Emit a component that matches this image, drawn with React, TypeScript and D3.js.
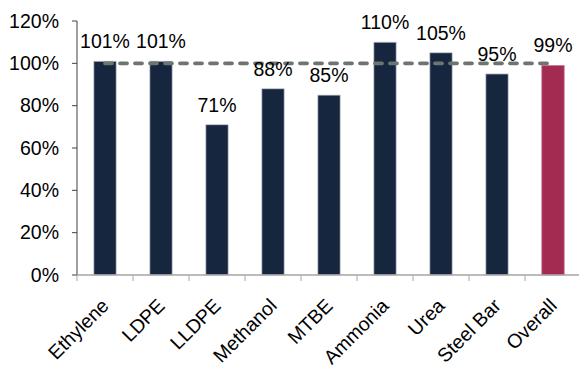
import React from "react";
import * as d3 from "d3";

const categories = ["Ethylene", "LDPE", "LLDPE", "Methanol", "MTBE", "Ammonia", "Urea", "Steel Bar", "Overall"];
const utilization = [101, 101, 71, 88, 85, 110, 105, 95, 99];
const yTicks = [0, 20, 40, 60, 80, 100, 120];
const referenceLevel = 100;

const W = 579;
const H = 374;
const FONT = "'Liberation Sans', Arial, Helvetica, sans-serif";
const FS = 19.5;

export default function App() {
  const x = d3
    .scaleBand<string>()
    .domain(categories)
    .range([77, 581])
    .paddingInner(0.6)
    .paddingOuter(0.3);
  const y = d3.scaleLinear().domain([0, 120]).range([275, 21]);
  const step = x.step();
  const left = 77;
  const center = (c: string) => (x(c) as number) + x.bandwidth() / 2;

  const first = categories[0];
  const last = categories[categories.length - 1];

  return (
    <svg
      width={W}
      height={H}
      style={{ position: "absolute", left: 0, top: 0, background: "#fff" }}
      fontFamily={FONT}
    >
      {/* bars */}
      {categories.map((c, i) => (
        <rect
          key={c}
          x={x(c)}
          y={y(utilization[i])}
          width={x.bandwidth()}
          height={y(0) - y(utilization[i])}
          fill={c === "Overall" ? "#a32a50" : "#17263f"}
          stroke={c === "Overall" ? "#c97a93" : "#c9ced8"}
          strokeWidth={0.8}
        />
      ))}

      {/* 100% reference line */}
      <line
        x1={center(first)}
        x2={center(last)}
        y1={y(referenceLevel)}
        y2={y(referenceLevel)}
        stroke="#6d7571"
        strokeWidth={3.8}
        strokeDasharray="7 8"
        strokeLinecap="round"
      />

      {/* y axis */}
      <line x1={left} x2={left} y1={y(120)} y2={y(0)} stroke="#404040" strokeWidth={1} />
      {yTicks.map((t) => (
        <g key={t}>
          <line x1={left - 5} x2={left} y1={y(t)} y2={y(t)} stroke="#404040" strokeWidth={1} />
          <text
            x={59}
            y={y(t)}
            dy="0.35em"
            textAnchor="end"
            fontSize={FS}
            fill="#000"
          >
            {t}%
          </text>
        </g>
      ))}

      {/* x axis */}
      <line x1={left} x2={W} y1={y(0)} y2={y(0)} stroke="#a6a6a6" strokeWidth={1.5} />
      {categories.map((c, i) => (
        <line
          key={c}
          x1={left + i * step}
          x2={left + i * step}
          y1={y(0)}
          y2={y(0) + 6}
          stroke="#a6a6a6"
          strokeWidth={1}
        />
      ))}

      {/* value labels */}
      {categories.map((c, i) => (
        <text
          key={c}
          x={center(c)}
          y={y(utilization[i]) - 13}
          textAnchor="middle"
          fontSize={FS}
          fill="#000"
        >
          {utilization[i]}%
        </text>
      ))}

      {/* category labels */}
      {categories.map((c) => (
        <text
          key={c}
          transform={`translate(${center(c) + 5},${307}) rotate(-45)`}
          textAnchor="end"
          fontSize={FS}
          fill="#000"
        >
          {c}
        </text>
      ))}
    </svg>
  );
}
